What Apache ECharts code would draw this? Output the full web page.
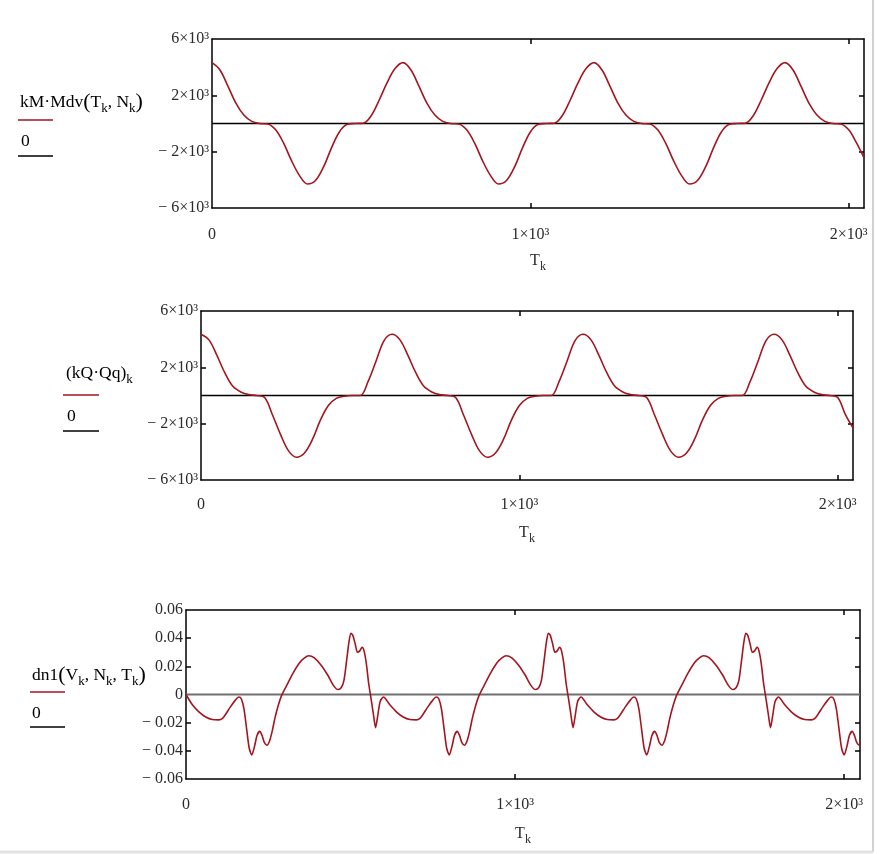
<!DOCTYPE html>
<html>
<head>
<meta charset="utf-8">
<title>kM·Mdv, kQ·Qq, dn1</title>
<script src="https://cdn.jsdelivr.net/npm/echarts@6/dist/echarts.min.js"></script>
<style>
  html, body { margin: 0; padding: 0; background: #fff; }
  #chart { width: 881px; height: 854px; }
</style>
</head>
<body>
<div id="chart"></div>
<script>
// T_k sample points of the two upper plots
var tGrid = [
  0, 25, 50, 75, 100, 125, 150, 175, 200, 225, 250, 275, 300, 325, 350, 375, 400, 425, 450, 475, 500, 525, 550, 575,
  600, 625, 650, 675, 700, 725, 750, 775, 800, 825, 850, 875, 900, 925, 950, 975, 1000, 1025, 1050, 1075, 1100, 1125, 1150, 1175,
  1200, 1225, 1250, 1275, 1300, 1325, 1350, 1375, 1400, 1425, 1450, 1475, 1500, 1525, 1550, 1575, 1600, 1625, 1650, 1675, 1700, 1725, 1750, 1775,
  1800, 1825, 1850, 1875, 1900, 1925, 1950, 1975, 2000, 2025, 2048
];

// kM·Mdv(T_k, N_k)
var kmMdv = [
  4320, 3800, 2650, 1450, 600, 150, 0, -30, -450, -1400, -2650, -3700, -4300, -4050, -3100, -1750, -600, -60, 0, 20, 550, 1650, 2900, 3900,
  4320, 3800, 2650, 1450, 600, 150, 0, -30, -450, -1400, -2650, -3700, -4300, -4050, -3100, -1750, -600, -60, 0, 20, 550, 1650, 2900, 3900,
  4320, 3800, 2650, 1450, 600, 150, 0, -30, -450, -1400, -2650, -3700, -4300, -4050, -3100, -1750, -600, -60, 0, 20, 550, 1650, 2900, 3900,
  4320, 3800, 2650, 1450, 600, 150, 0, -30, -450, -1400, -2450
];

// (kQ·Qq)_k
var kqQq = [
  4350, 3950, 2850, 1600, 650, 250, 60, 0, -150, -1400, -2780, -3930, -4380, -4080, -3120, -1750, -710, -200, -50, 0, 0, 1000, 2450, 3900,
  4350, 3950, 2850, 1600, 650, 250, 60, 0, -150, -1400, -2780, -3930, -4380, -4080, -3120, -1750, -710, -200, -50, 0, 0, 1000, 2450, 3900,
  4350, 3950, 2850, 1600, 650, 250, 60, 0, -150, -1400, -2780, -3930, -4380, -4080, -3120, -1750, -710, -200, -50, 0, 0, 1000, 2450, 3900,
  4350, 3950, 2850, 1600, 650, 250, 60, 0, -150, -1400, -2300
];

// T_k sample points of dn1 (denser where the curve is sharp)
var tDn = [
  0, 20, 40, 60, 80, 100, 110, 120, 135, 150, 160, 168, 176, 184, 192, 200, 208, 216, 224, 231, 238, 246, 254, 262, 270, 280, 290,
  305, 325, 345, 360, 373, 390, 410, 430, 448, 462, 472, 480, 488, 495, 501, 507, 514, 521, 528, 535, 541, 548, 555, 563, 570, 576, 582, 590,
  600, 620, 640, 660, 680, 700, 710, 720, 735, 750, 760, 768, 776, 784, 792, 800, 808, 816, 824, 831, 838, 846, 854, 862, 870, 880, 890,
  905, 925, 945, 960, 973, 990, 1010, 1030, 1048, 1062, 1072, 1080, 1088, 1095, 1101, 1107, 1114, 1121, 1128, 1135, 1141, 1148, 1155, 1163, 1170, 1176, 1182, 1190,
  1200, 1220, 1240, 1260, 1280, 1300, 1310, 1320, 1335, 1350, 1360, 1368, 1376, 1384, 1392, 1400, 1408, 1416, 1424, 1431, 1438, 1446, 1454, 1462, 1470, 1480, 1490,
  1505, 1525, 1545, 1560, 1573, 1590, 1610, 1630, 1648, 1662, 1672, 1680, 1688, 1695, 1701, 1707, 1714, 1721, 1728, 1735, 1741, 1748, 1755, 1763, 1770, 1776, 1782, 1790,
  1800, 1820, 1840, 1860, 1880, 1900, 1910, 1920, 1935, 1950, 1960, 1968, 1976, 1984, 1992, 2000, 2008, 2016, 2024, 2031, 2038, 2046, 2048
];

// dn1(V_k, N_k, T_k)
var dn1 = [
  0, -0.0075, -0.0125, -0.016, -0.0178, -0.018, -0.0172, -0.0142, -0.0088, -0.004, -0.0018, -0.003, -0.01, -0.024, -0.038, -0.043, -0.037, -0.029, -0.0262, -0.029, -0.034, -0.036, -0.033, -0.026, -0.017, -0.008, -0.001,
  0.006, 0.015, 0.0225, 0.026, 0.0275, 0.026, 0.021, 0.014, 0.0065, 0.0035, 0.005, 0.01, 0.024, 0.037, 0.0435, 0.042, 0.036, 0.03, 0.031, 0.0335, 0.031, 0.022, 0.008, -0.004, -0.015, -0.0235, -0.016, -0.005,
  -0.0018, -0.0075, -0.0125, -0.016, -0.0178, -0.018, -0.0172, -0.0142, -0.0088, -0.004, -0.0018, -0.003, -0.01, -0.024, -0.038, -0.043, -0.037, -0.029, -0.0262, -0.029, -0.034, -0.036, -0.033, -0.026, -0.017, -0.008, -0.001,
  0.006, 0.015, 0.0225, 0.026, 0.0275, 0.026, 0.021, 0.014, 0.0065, 0.0035, 0.005, 0.01, 0.024, 0.037, 0.0435, 0.042, 0.036, 0.03, 0.031, 0.0335, 0.031, 0.022, 0.008, -0.004, -0.015, -0.0235, -0.016, -0.005,
  -0.0018, -0.0075, -0.0125, -0.016, -0.0178, -0.018, -0.0172, -0.0142, -0.0088, -0.004, -0.0018, -0.003, -0.01, -0.024, -0.038, -0.043, -0.037, -0.029, -0.0262, -0.029, -0.034, -0.036, -0.033, -0.026, -0.017, -0.008, -0.001,
  0.006, 0.015, 0.0225, 0.026, 0.0275, 0.026, 0.021, 0.014, 0.0065, 0.0035, 0.005, 0.01, 0.024, 0.037, 0.0435, 0.042, 0.036, 0.03, 0.031, 0.0335, 0.031, 0.022, 0.008, -0.004, -0.015, -0.0235, -0.016, -0.005,
  -0.0018, -0.0075, -0.0125, -0.016, -0.0178, -0.018, -0.0172, -0.0142, -0.0088, -0.004, -0.0018, -0.003, -0.01, -0.024, -0.038, -0.043, -0.037, -0.029, -0.0262, -0.029, -0.034, -0.036, -0.0355
];

// tick values
var xTicks = [1000, 2000];
var xLabels = [0, 1000, 2000];
var bigTicks = [-2000, 2000];
var bigLabels = [-6000, -2000, 2000, 6000];
var smallTicks = [-0.04, -0.02, 0.02, 0.04];
var smallLabels = [-0.06, -0.04, -0.02, 0, 0.02, 0.04, 0.06];

var FONT = '"Liberation Serif", "Times New Roman", serif';
var INK = '#2b2b2b';
var RED = '#a3161f';

function pow10(v) {
  if (v === 0) return '0';
  var s = Math.abs(v) / 1000 + '×10³';
  return v < 0 ? '− ' + s : s;
}
function dec(v) {
  if (Math.abs(v) < 1e-9) return '0';
  var s = Math.abs(v).toFixed(2);
  return v < 0 ? '− ' + s : s;
}

var subRich = {
  n: { fontFamily: FONT, fontSize: 16, color: INK, lineHeight: 24, verticalAlign: 'middle' },
  p: { fontFamily: FONT, fontSize: 20, color: INK, lineHeight: 24, verticalAlign: 'middle' },
  s: { fontFamily: FONT, fontSize: 12, color: INK, lineHeight: 24, verticalAlign: 'bottom' }
};
// legend labels are set a little larger
var legRich = {
  n: { fontFamily: FONT, fontSize: 17.5, color: INK, lineHeight: 26, verticalAlign: 'middle' },
  p: { fontFamily: FONT, fontSize: 22, color: INK, lineHeight: 26, verticalAlign: 'middle' },
  s: { fontFamily: FONT, fontSize: 13, color: INK, lineHeight: 26, verticalAlign: 'bottom' }
};

var grids = [
  { left: 212, top: 39, width: 652, height: 169 },
  { left: 201, top: 311, width: 652, height: 169 },
  { left: 186, top: 610, width: 674, height: 169 }
];
var labelMargin = [19, 17, 18];
var nameGap = [41, 41, 43];

var xAxes = [], yAxes = [];
grids.forEach(function (g, i) {
  var line = { show: true, onZero: false, lineStyle: { color: '#000', width: 1.5 } };
  var tick = { show: true, inside: true, length: 5, customValues: xTicks, lineStyle: { color: '#000', width: 1.5 } };
  xAxes.push({
    type: 'value', gridIndex: i, position: 'bottom', min: 0, max: 2048,
    axisLine: line, axisTick: tick, splitLine: { show: false },
    axisLabel: { customValues: xLabels, formatter: pow10, margin: labelMargin[i],
      fontFamily: FONT, fontSize: 16, color: INK },
    name: '{n|T}{s|k}', nameLocation: 'middle', nameGap: nameGap[i],
    nameTextStyle: { rich: subRich }
  });
  xAxes.push({
    type: 'value', gridIndex: i, position: 'top', min: 0, max: 2048,
    axisLine: line, axisTick: tick, splitLine: { show: false }, axisLabel: { show: false }
  });

  var small = i === 2;
  var yTick = { show: true, inside: true, length: 5, customValues: small ? smallTicks : bigTicks,
    lineStyle: { color: '#000', width: 1.5 } };
  var yBase = { type: 'value', gridIndex: i, min: small ? -0.06 : -6000, max: small ? 0.06 : 6000,
    axisLine: line, axisTick: yTick, splitLine: { show: false } };
  yAxes.push(Object.assign({}, yBase, {
    position: 'left',
    axisLabel: { customValues: small ? smallLabels : bigLabels, formatter: small ? dec : pow10,
      margin: 3, fontFamily: FONT, fontSize: 16, color: INK }
  }));
  yAxes.push(Object.assign({}, yBase, { position: 'right', axisLabel: { show: false } }));
});

function pairs(xs, ys) {
  return xs.map(function (x, i) { return [x, ys[i]]; });
}
function zeroLine(i, color, width) {
  return { type: 'line', xAxisIndex: 2 * i, yAxisIndex: 2 * i, data: [[0, 0], [2048, 0]],
    symbol: 'none', silent: true, lineStyle: { color: color, width: width }, z: 1 };
}
function curve(i, data, smooth) {
  return { type: 'line', xAxisIndex: 2 * i, yAxisIndex: 2 * i, data: data, symbol: 'none',
    smooth: smooth, lineStyle: { color: RED, width: 1.6 }, z: 2 };
}

var series = [
  zeroLine(0, '#000', 1.5), curve(0, pairs(tGrid, kmMdv), 0.35),
  zeroLine(1, '#000', 1.5), curve(1, pairs(tGrid, kqQq), 0.35),
  zeroLine(2, '#707070', 2), curve(2, pairs(tDn, dn1), 0.25)
];

function legText(x, y, text) {
  return { type: 'text', x: x, y: y, style: { text: text, rich: legRich, align: 'left', verticalAlign: 'middle' } };
}
function legLine(x1, x2, y, color) {
  return { type: 'line', shape: { x1: x1, y1: y, x2: x2, y2: y }, style: { stroke: color, lineWidth: 1.5 } };
}

var graphic = [
  legText(20, 102, '{n|kM·Mdv}{p|(}{n|T}{s|k}{n|, N}{s|k}{p|)}'),
  legLine(18, 53, 120, RED),
  legText(21, 141, '{n|0}'),
  legLine(18, 53, 156, '#000'),

  legText(66, 373, '{n|(kQ·Qq)}{s|k}'),
  legLine(63, 99, 395, RED),
  legText(67, 416, '{n|0}'),
  legLine(63, 99, 431, '#000'),

  legText(32, 675, '{n|dn1}{p|(}{n|V}{s|k}{n|, N}{s|k}{n|, T}{s|k}{p|)}'),
  legLine(30, 65, 692, RED),
  legText(32, 713, '{n|0}'),
  legLine(30, 65, 727, '#000'),

  // page edges
  { type: 'line', shape: { x1: 873, y1: 0, x2: 873, y2: 852 }, style: { stroke: '#d2d2d2', lineWidth: 2 } },
  { type: 'line', shape: { x1: 0, y1: 852, x2: 873, y2: 852 }, style: { stroke: '#e2e2e2', lineWidth: 3 } }
];

var chart = echarts.init(document.getElementById('chart'));
chart.setOption({
  animation: false,
  backgroundColor: '#fff',
  grid: grids,
  xAxis: xAxes,
  yAxis: yAxes,
  series: series,
  graphic: graphic
});
</script>
</body>
</html>
